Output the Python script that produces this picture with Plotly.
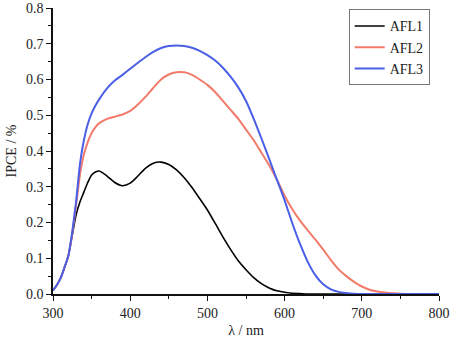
import plotly.graph_objects as go

wavelength = [300, 305, 310, 315, 320, 325, 330, 335, 340, 345, 350, 355, 360, 370, 380, 390, 400,
              410, 420, 430, 440, 450, 460, 470, 480, 490, 500, 510, 520, 530, 540, 550, 560,
              570, 580, 590, 600, 610, 620, 630, 640, 650, 660, 670, 680, 690, 700, 710, 720,
              730, 740, 750, 760, 770, 780, 790, 800]

afl1 = [0.01, 0.025, 0.045, 0.075, 0.108, 0.165, 0.222, 0.258, 0.285, 0.312, 0.333, 0.341, 0.344,
        0.33, 0.312, 0.303, 0.31, 0.33, 0.352, 0.366, 0.369, 0.362, 0.347, 0.325, 0.298,
        0.267, 0.235, 0.198, 0.16, 0.125, 0.093, 0.068, 0.046, 0.029, 0.017, 0.009, 0.005,
        0.002, 0.001, 0, 0, 0, 0, 0, 0, 0, 0, 0, 0, 0, 0, 0, 0, 0, 0, 0, 0]

afl2 = [0.01, 0.025, 0.045, 0.075, 0.108, 0.17, 0.25, 0.335, 0.39, 0.425, 0.45, 0.467, 0.478,
        0.49, 0.496, 0.502, 0.512, 0.53, 0.552, 0.577, 0.6, 0.614, 0.62, 0.62, 0.613,
        0.6, 0.585, 0.565, 0.54, 0.515, 0.49, 0.46, 0.43, 0.395, 0.36, 0.32, 0.275,
        0.237, 0.205, 0.178, 0.152, 0.124, 0.095, 0.069, 0.05, 0.034, 0.021, 0.012, 0.007,
        0.004, 0.002, 0.001, 0, 0, 0, 0, 0]

afl3 = [0.01, 0.025, 0.045, 0.075, 0.108, 0.175, 0.26, 0.365, 0.43, 0.475, 0.505, 0.527, 0.545,
        0.575, 0.597, 0.613, 0.63, 0.647, 0.663, 0.677, 0.688, 0.694, 0.695, 0.694, 0.689,
        0.68, 0.668, 0.653, 0.633, 0.608, 0.578, 0.54, 0.49, 0.435, 0.378, 0.32, 0.262,
        0.198, 0.14, 0.09, 0.052, 0.027, 0.013, 0.006, 0.003, 0.001, 0, 0, 0,
        0, 0, 0, 0, 0, 0, 0, 0]

series_names = ["AFL1", "AFL2", "AFL3"]
series_values = [afl1, afl2, afl3]
series_colors = ["#000000", "#f27a6a", "#4a5fe6"]
series_widths = [1.6, 2.0, 2.0]

x_ticks = [300, 400, 500, 600, 700, 800]
y_ticks = [0.0, 0.1, 0.2, 0.3, 0.4, 0.5, 0.6, 0.7, 0.8]

fig = go.Figure()
for name, vals, col, w in zip(series_names, series_values, series_colors, series_widths):
    fig.add_trace(go.Scatter(x=wavelength, y=vals, mode="lines", name=name,
                             line=dict(color=col, width=w, shape="spline", smoothing=0.6)))

font_family = "Liberation Serif, Times New Roman, serif"
fig.update_layout(
    width=450, height=341,
    margin=dict(l=53, r=11, t=8, b=47, autoexpand=False),
    paper_bgcolor="white", plot_bgcolor="white",
    font=dict(family=font_family, size=14, color="#222"),
    showlegend=True,
    legend=dict(x=0.766, y=0.995, xanchor="left", yanchor="top",
                bordercolor="#777", borderwidth=1, bgcolor="white",
                font=dict(family=font_family, size=14, color="#222"),
                tracegroupgap=0, itemwidth=30),
    xaxis=dict(range=[300, 800], tickvals=x_ticks, ticktext=[str(v) for v in x_ticks],
               automargin=False,
               showgrid=False, zeroline=False, showline=True, linecolor="#111", linewidth=1.5,
               ticks="outside", ticklen=5, tickwidth=1.2, tickcolor="#111",
               minor=dict(ticks="outside", dtick=50, ticklen=3, tickcolor="#111"),
               title=dict(text="λ / nm", font=dict(family=font_family, size=14), standoff=6)),
    yaxis=dict(range=[0, 0.8], tickvals=y_ticks, ticktext=[f"{v:.1f}" for v in y_ticks],
               automargin=False,
               showgrid=False, zeroline=False, showline=True, linecolor="#111", linewidth=1.5,
               ticks="outside", ticklen=5, tickwidth=1.2, tickcolor="#111",
               minor=dict(ticks="outside", dtick=0.05, ticklen=3, tickcolor="#111"),
               title=dict(text="IPCE / %", font=dict(family=font_family, size=14), standoff=6)),
)

fig.write_html("out.html", config={"displayModeBar": False},
               post_script="document.body.style.margin='0';document.body.style.padding='0';")
